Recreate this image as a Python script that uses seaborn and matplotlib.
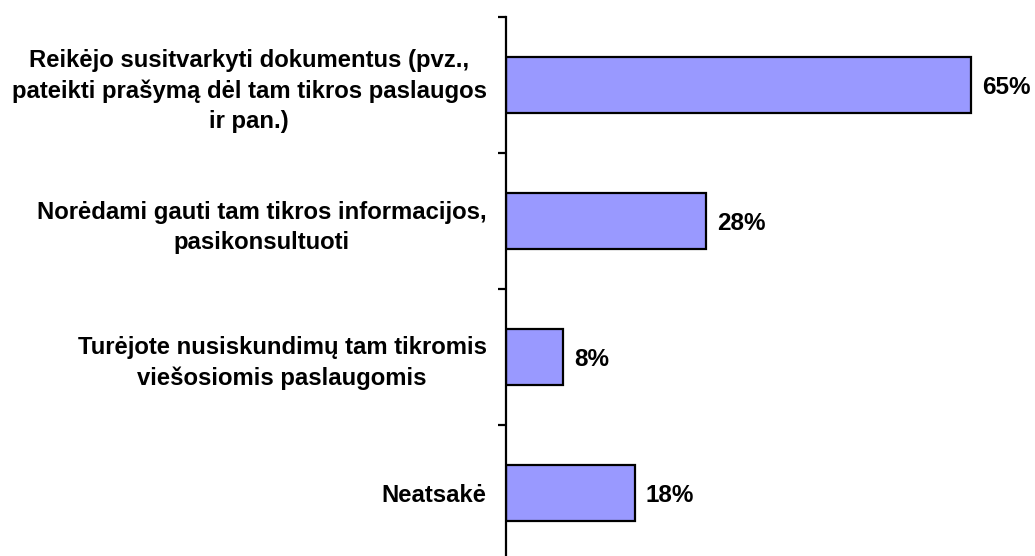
import matplotlib
matplotlib.use("Agg")
import matplotlib.pyplot as plt
import seaborn as sns
import pandas as pd
from matplotlib.ticker import FixedLocator

categories = [
    "Reikėjo susitvarkyti dokumentus (pvz.,\npateikti prašymą dėl tam tikros paslaugos\nir pan.)",
    "Norėdami gauti tam tikros informacijos,\npasikonsultuoti",
    "Turėjote nusiskundimų tam tikromis\nviešosiomis paslaugomis",
    "Neatsakė",
]
values = [65, 28, 8, 18]
value_labels = ["65%", "28%", "8%", "18%"]

sns.set_theme(style="white")
plt.rcParams["font.family"] = ["Liberation Sans", "DejaVu Sans"]

df = pd.DataFrame({"category": categories, "value": values})

fig = plt.figure(figsize=(10.35, 5.56), dpi=100)
ax = fig.add_axes([506 / 1035, -5 / 556, 529 / 1035, 544 / 556])

sns.barplot(data=df, y="category", x="value", orient="h", ax=ax,
            color="#9999FF", saturation=1, width=0.41,
            edgecolor="black", linewidth=1.6)

ax.set_xlim(0, 529 / 7.15)
ax.set_ylim(3.5, -0.5)
ax.set_xlabel("")
ax.set_ylabel("")

for s in ["top", "right", "bottom"]:
    ax.spines[s].set_visible(False)
ax.spines["left"].set_color("black")
ax.spines["left"].set_linewidth(1.6)

ax.set_xticks([])
ax.set_yticks(range(len(categories)))
ax.set_yticklabels(categories, fontsize=17.2, fontweight="bold",
                   color="black", multialignment="center", linespacing=1.4)
ax.yaxis.set_minor_locator(FixedLocator([-0.5, 0.5, 1.5, 2.5, 3.5]))
ax.tick_params(axis="y", which="major", length=0, pad=14)
ax.tick_params(axis="y", which="minor", left=True, length=6, width=1.6,
               color="black", direction="out")

for bar, txt in zip(ax.patches, value_labels):
    ax.annotate(txt, (bar.get_width(), bar.get_y() + bar.get_height() / 2),
                xytext=(11, -2), textcoords="offset pixels",
                ha="left", va="center", fontsize=17.5, fontweight="bold",
                color="black")

fig.savefig("out.png", dpi=100)
